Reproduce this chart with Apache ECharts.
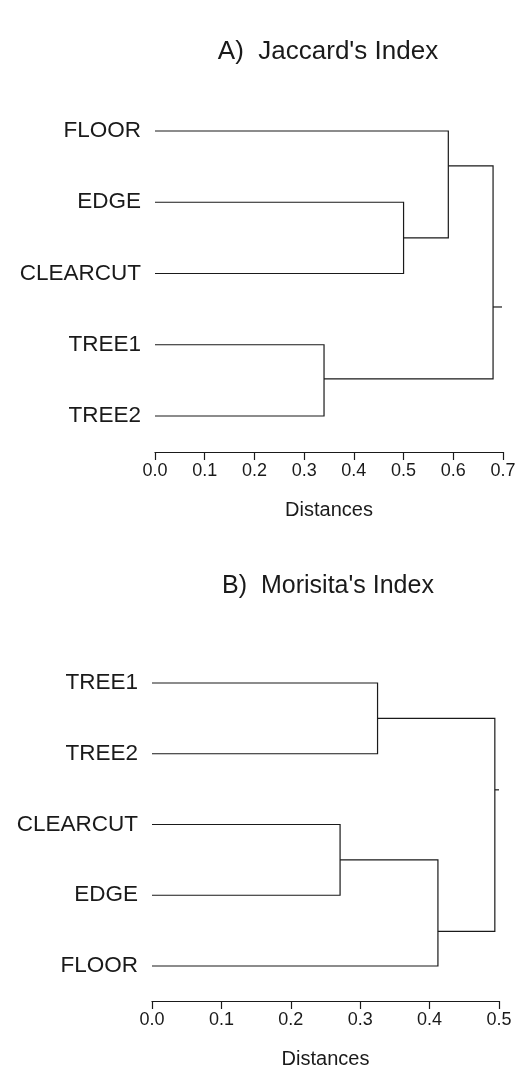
<!DOCTYPE html>
<html>
<head>
<meta charset="utf-8">
<script src="https://cdn.jsdelivr.net/npm/echarts@6/dist/echarts.min.js"></script>
<style>html,body{margin:0;padding:0;background:#fff}#c{width:519px;height:1070px}</style>
</head>
<body>
<div id="c"></div>
<script>
// Panel A: Jaccard's Index
const leavesA = ['FLOOR', 'EDGE', 'CLEARCUT', 'TREE1', 'TREE2'];
// each link: [upper child height, upper child row, lower child height, lower child row, merge height]
const linksA = [
  [0, 1, 0, 2, 0.50],
  [0, 0, 0.50, 1.5, 0.59],
  [0, 3, 0, 4, 0.34],
  [0.59, 0.49, 0.34, 3.48, 0.68]
];
const rootA = [[0.68, 2.47, 0.698]];
const ticksA = [0, 0.7, 0.1];

// Panel B: Morisita's Index
const leavesB = ['TREE1', 'TREE2', 'CLEARCUT', 'EDGE', 'FLOOR'];
const linksB = [
  [0, 0, 0, 1, 0.325],
  [0, 2, 0, 3, 0.271],
  [0.271, 2.5, 0, 4, 0.412],
  [0.325, 0.5, 0.412, 3.51, 0.494]
];
const rootB = [[0.494, 1.51, 0.5]];
const ticksB = [0, 0.5, 0.1];

const FONT = "'Liberation Sans', Arial, sans-serif";
const INK = '#1a1a1a';

function linkRender(params, api) {
  const p1 = api.coord([api.value(0), api.value(1)]);
  const p2 = api.coord([api.value(4), api.value(1)]);
  const p3 = api.coord([api.value(4), api.value(3)]);
  const p4 = api.coord([api.value(2), api.value(3)]);
  return {
    type: 'polyline',
    shape: { points: [p1, p2, p3, p4] },
    style: { fill: 'none', stroke: INK, lineWidth: 1.2 }
  };
}
function stubRender(params, api) {
  const a = api.coord([api.value(0), api.value(1)]);
  const b = api.coord([api.value(2), api.value(1)]);
  return {
    type: 'line',
    shape: { x1: a[0], y1: a[1], x2: b[0], y2: b[1] },
    style: { stroke: INK, lineWidth: 1.2 }
  };
}
function xAxisFor(idx, t, offset) {
  return {
    type: 'value', gridIndex: idx, min: t[0], max: t[1], interval: t[2],
    position: 'bottom', offset: offset,
    axisLine: { show: true, onZero: false, lineStyle: { color: INK, width: 1.2 } },
    axisTick: { show: true, length: 8, lineStyle: { color: INK, width: 1.2 } },
    axisLabel: { color: INK, fontSize: 18, fontFamily: FONT, margin: 10,
      formatter: v => v.toFixed(1) },
    splitLine: { show: false },
    name: 'Distances', nameLocation: 'middle', nameGap: 48,
    nameTextStyle: { color: INK, fontSize: 20, fontFamily: FONT }
  };
}
function yAxisFor(idx, leaves) {
  return {
    type: 'value', gridIndex: idx, min: 0, max: 4, interval: 1, inverse: true,
    axisLine: { show: false, onZero: false }, axisTick: { show: false }, splitLine: { show: false },
    axisLabel: { color: INK, fontSize: 22.5, fontFamily: FONT, margin: 14,
      formatter: v => leaves[Math.round(v)] || '' }
  };
}

const chart = echarts.init(document.getElementById('c'), null, { renderer: 'canvas' });
chart.setOption({
  backgroundColor: '#fff',
  animation: false,
  title: [
    { text: "A)  Jaccard's Index", left: 323, top: 34, textAlign: 'center',
      textStyle: { color: INK, fontSize: 26, fontWeight: 'normal', fontFamily: FONT } },
    { text: "B)  Morisita's Index", left: 323, top: 569, textAlign: 'center',
      textStyle: { color: INK, fontSize: 25, fontWeight: 'normal', fontFamily: FONT } }
  ],
  grid: [
    { left: 155, right: 16, top: 131, height: 285 },
    { left: 152, right: 20, top: 683, height: 284 }
  ],
  xAxis: [xAxisFor(0, ticksA, 36), xAxisFor(1, ticksB, 35)],
  yAxis: [yAxisFor(0, leavesA), yAxisFor(1, leavesB)],
  series: [
    { type: 'custom', xAxisIndex: 0, yAxisIndex: 0, data: linksA, renderItem: linkRender,
      encode: { x: [0, 2, 4], y: [1, 3] }, silent: true },
    { type: 'custom', xAxisIndex: 0, yAxisIndex: 0, data: rootA, renderItem: stubRender,
      encode: { x: [0, 2], y: 1 }, silent: true },
    { type: 'custom', xAxisIndex: 1, yAxisIndex: 1, data: linksB, renderItem: linkRender,
      encode: { x: [0, 2, 4], y: [1, 3] }, silent: true },
    { type: 'custom', xAxisIndex: 1, yAxisIndex: 1, data: rootB, renderItem: stubRender,
      encode: { x: [0, 2], y: 1 }, silent: true }
  ]
});
</script>
</body>
</html>
